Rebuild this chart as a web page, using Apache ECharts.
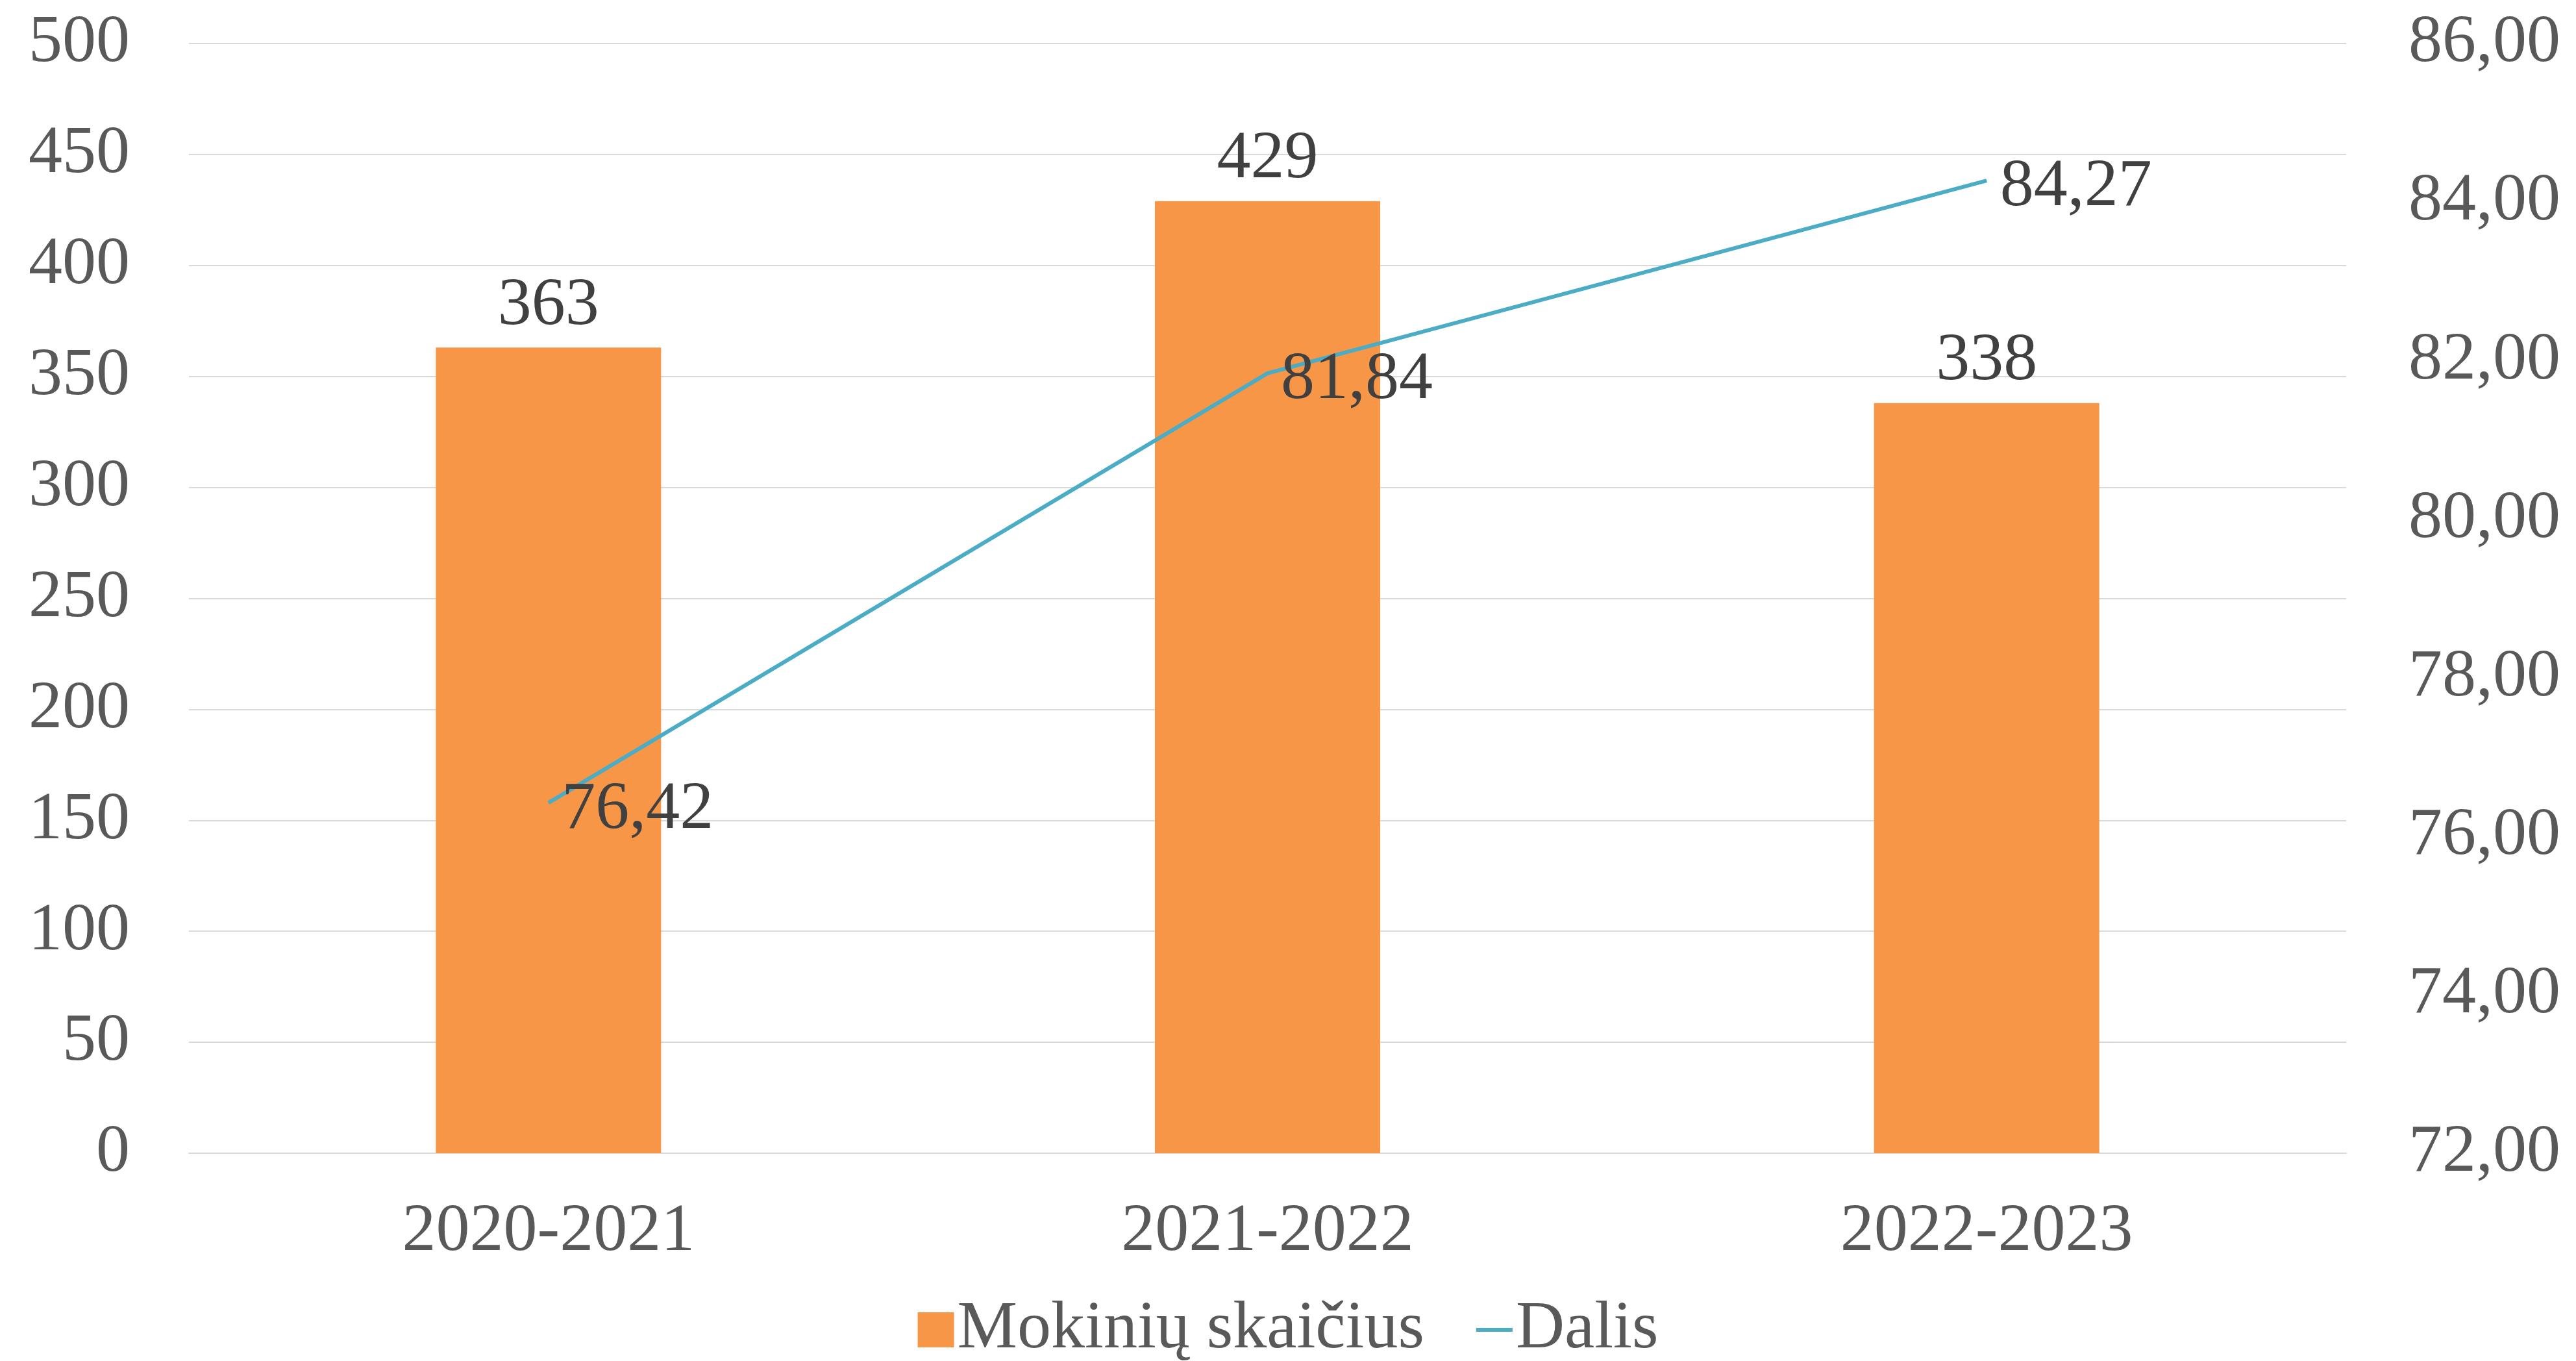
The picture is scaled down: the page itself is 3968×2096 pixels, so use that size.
<!DOCTYPE html>
<html>
<head>
<meta charset="utf-8">
<script src="https://cdn.jsdelivr.net/npm/echarts@6/dist/echarts.min.js"></script>
<style>
  html, body { margin: 0; padding: 0; background: #fff; }
  #echarts_main { width: 3968px; height: 2096px; }
</style>
</head>
<body>
<div id="echarts_main"></div>
<script>
// duomenys
var categories = ['2020-2021', '2021-2022', '2022-2023'];
var mokiniai = [363, 429, 338];
var dalis = [76.42, 81.84, 84.27];
var seriesNames = ['Mokinių skaičius', 'Dalis'];

var font = "'Liberation Serif', 'Times New Roman', serif";
var fontSize = 104;

function comma(v) {
    return Number(v).toFixed(2).replace('.', ',');
}

var myChart = echarts.init(document.getElementById('echarts_main'));

var option = {
    backgroundColor: '#fff',
    animation: false,
    grid: {
        left: 291,
        right: 354,
        top: 67,
        bottom: 320
    },
    legend: {
        top: 1978,
        left: 'center',
        itemWidth: 56,
        itemHeight: 54,
        itemGap: 80,
        textStyle: {
            fontFamily: font,
            fontSize: fontSize,
            color: '#595959',
            lineHeight: 130
        },
        data: [
            { name: seriesNames[0], icon: 'rect' },
            { name: seriesNames[1], icon: 'path://M0,0H56V6H0Z' }
        ]
    },
    xAxis: [
        {
            type: 'category',
            data: categories,
            axisTick: { show: false },
            axisLine: {
                show: true,
                lineStyle: { color: '#d9d9d9', width: 2 }
            },
            axisLabel: {
                fontFamily: font,
                fontSize: fontSize,
                color: '#595959',
                margin: 70
            }
        }
    ],
    yAxis: [
        {
            type: 'value',
            min: 0,
            max: 500,
            interval: 50,
            axisLine: { show: false },
            axisTick: { show: false },
            splitLine: {
                lineStyle: { color: '#d9d9d9', width: 2 }
            },
            axisLabel: {
                fontFamily: font,
                fontSize: fontSize,
                color: '#595959',
                margin: 91
            }
        },
        {
            type: 'value',
            min: 72,
            max: 86,
            interval: 2,
            axisLine: { show: false },
            axisTick: { show: false },
            splitLine: { show: false },
            axisLabel: {
                fontFamily: font,
                fontSize: fontSize,
                color: '#595959',
                margin: 96,
                formatter: comma
            }
        }
    ],
    series: [
        {
            name: seriesNames[0],
            type: 'bar',
            data: mokiniai,
            barWidth: 347,
            itemStyle: { color: '#F79646' },
            label: {
                show: true,
                position: 'top',
                distance: 12,
                fontFamily: font,
                fontSize: fontSize,
                color: '#404040'
            },
            z: 2
        },
        {
            name: seriesNames[1],
            type: 'line',
            yAxisIndex: 1,
            data: dalis,
            symbol: 'circle',
            symbolSize: 1,
            showSymbol: true,
            lineStyle: { color: '#4BACC6', width: 6 },
            itemStyle: { color: '#4BACC6' },
            label: {
                show: true,
                position: 'right',
                distance: 20,
                offset: [0, 11],
                fontFamily: font,
                fontSize: fontSize,
                color: '#404040',
                formatter: function (p) { return comma(p.value); }
            },
            z: 3
        }
    ]
};

myChart.setOption(option);
</script>
</body>
</html>
